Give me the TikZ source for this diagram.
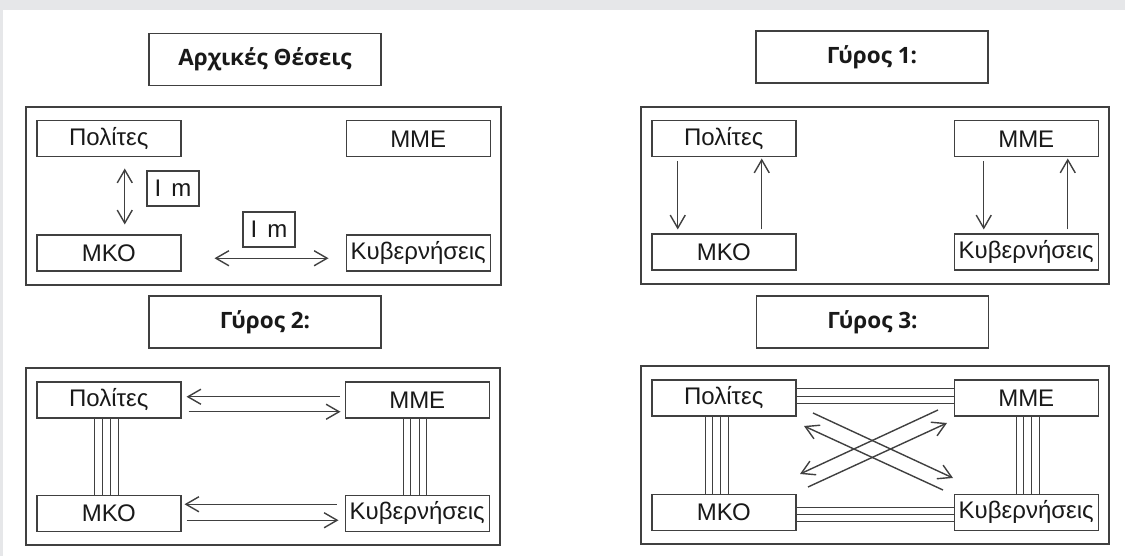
\documentclass[tikz,border=0pt]{standalone}
\usepackage{fontspec}
\setmainfont{Liberation Sans}
\newfontfamily\titlefont{Open Sans}
\usetikzlibrary{positioning, fit, arrows.meta}
\definecolor{framegray}{HTML}{404040}
\definecolor{pagegray}{HTML}{E6E7E9}
\tikzset{>={Straight Barb[length=13pt,width=15pt]}}

\begin{document}
\begin{tikzpicture}[
  x=1pt, y=-1pt,
  every node/.style={text=black!90},
  actor/.style={draw=framegray, line width=1.5pt, minimum width=144pt, minimum height=36pt, inner sep=0pt, font=\fontsize{24}{26}\selectfont},
  roundtitle/.style={draw=framegray, line width=1.6pt, minimum width=232pt, minimum height=52pt, inner sep=0pt, font=\titlefont\bfseries\fontsize{22.5}{26}\selectfont},
  imbox/.style={draw=framegray, line width=1.5pt, minimum width=52pt, minimum height=35pt, inner sep=0pt, font=\fontsize{24}{26}\selectfont},
  panelframe/.style={draw=framegray, line width=2pt, inner xsep=10pt, inner ysep=13pt},
  link/.style={->, draw=framegray, line width=1.4pt},
  bundle/.style={draw=framegray, line width=1.2pt}
]

% page
\fill[pagegray] (0,0) rectangle (1125,556);
\fill[white] (3,10) rectangle (1125,556);
\useasboundingbox (0,0) rectangle (1125,556);

% Initial positions
\node[roundtitle] (T1) at (265,59.5) {Αρχικές Θέσεις};
\node[actor, anchor=north west] (pol1) at (36,120) {Πολίτες};
\node[actor, right=164pt of pol1] (mme1) {ΜΜΕ};
\node[actor, below=77pt of pol1] (mko1) {ΜΚΟ};
\node[actor, right=164pt of mko1] (kyv1) {Κυβερνήσεις};
\node[panelframe, fit=(pol1)(kyv1)] (F1) {};
\node[imbox] (im1) at (173,188.5) {I\hspace{10pt}m};
\node[imbox] (im2) at (269,229.5) {I\hspace{10pt}m};
\draw[link, <->, shorten <=11pt, shorten >=10pt] ([xshift=16pt]pol1.south) -- ([xshift=16pt]mko1.north);
\draw[link, <->, shorten <=33pt, shorten >=17pt] ([yshift=-5pt]mko1.east) -- ([yshift=-5pt]kyv1.west);

% Round 1
\node[roundtitle] (T2) at (872,57) {Γύρος 1:};
\node[actor, anchor=north west] (pol2) at (651,120) {Πολίτες};
\node[actor, right=157pt of pol2] (mme2) {ΜΜΕ};
\node[actor, below=76pt of pol2] (mko2) {ΜΚΟ};
\node[actor, right=157pt of mko2] (kyv2) {Κυβερνήσεις};
\node[panelframe, fit=(pol2)(kyv2)] (F2) {};
\draw[link, shorten <=4pt, shorten >=4pt] ([xshift=-46pt]pol2.south) -- ([xshift=-46pt]mko2.north);
\draw[link, shorten <=4pt, shorten >=1pt] ([xshift=38pt]mko2.north) -- ([xshift=38pt]pol2.south);
\draw[link, shorten <=4pt, shorten >=4pt] ([xshift=-42.5pt]mme2.south) -- ([xshift=-42.5pt]kyv2.north);
\draw[link, shorten <=4pt, shorten >=1pt] ([xshift=41.5pt]kyv2.north) -- ([xshift=41.5pt]mme2.south);

% Round 2
\node[roundtitle] (T3) at (265,322) {Γύρος 2:};
\node[actor, anchor=north west] (pol3) at (36,381) {Πολίτες};
\node[actor, right=163pt of pol3] (mme3) {ΜΜΕ};
\node[actor, below=76pt of pol3] (mko3) {ΜΚΟ};
\node[actor, right=163pt of mko3] (kyv3) {Κυβερνήσεις};
\node[panelframe, fit=(pol3)(kyv3)] (F3) {};
\draw[link, shorten <=5pt, shorten >=5pt] ([yshift=3pt]mme3.west) -- ([yshift=3pt]pol3.east);
\draw[link, shorten <=7pt, shorten >=4pt] ([yshift=-12pt]pol3.east) -- ([yshift=-12pt]mme3.west);
\draw[link, shorten <=8pt, shorten >=3pt] ([yshift=9pt]kyv3.west) -- ([yshift=9pt]mko3.east);
\draw[link, shorten <=5pt, shorten >=6pt] ([yshift=-7pt]mko3.east) -- ([yshift=-7pt]kyv3.west);
\foreach \dx in {-14,-6.5,2,9.5} {
  \draw[bundle] ([xshift=\dx pt]pol3.south) -- ([xshift=\dx pt]mko3.north);
  \draw[bundle] ([xshift=\dx pt]mme3.south) -- ([xshift=\dx pt]kyv3.north);
}

% Round 3
\node[roundtitle] (T4) at (872.5,322) {Γύρος 3:};
\node[actor, anchor=north west] (pol4) at (651,379) {Πολίτες};
\node[actor, right=157pt of pol4] (mme4) {ΜΜΕ};
\node[actor, below=77pt of pol4] (mko4) {ΜΚΟ};
\node[actor, right=157pt of mko4] (kyv4) {Κυβερνήσεις};
\node[panelframe, fit=(pol4)(kyv4)] (F4) {};
\foreach \dx in {-18.5,-11,-3,5}
  \draw[bundle] ([xshift=\dx pt]pol4.south) -- ([xshift=\dx pt]mko4.north);
\foreach \dx in {-10,-3,5.5,13}
  \draw[bundle] ([xshift=\dx pt]mme4.south) -- ([xshift=\dx pt]kyv4.north);
\foreach \dy in {9,1.5,-6}
  \draw[bundle] ([yshift=\dy pt]pol4.east) -- ([yshift=\dy pt]mme4.west);
\foreach \dy in {5,-2,-9}
  \draw[bundle] ([yshift=\dy pt]mko4.east) -- ([yshift=\dy pt]kyv4.west);
% crossing arrows
\coordinate (xa) at (813,413);
\coordinate (xb) at (953,478);
\coordinate (xc) at (943,490);
\coordinate (xd) at (804,426);
\coordinate (xe) at (938,410);
\coordinate (xf) at (800,474);
\coordinate (xg) at (808,487);
\coordinate (xh) at (947,423);
\draw[link] (xa) -- (xb);
\draw[link] (xc) -- (xd);
\draw[link] (xe) -- (xf);
\draw[link] (xg) -- (xh);

\end{tikzpicture}
\end{document}
